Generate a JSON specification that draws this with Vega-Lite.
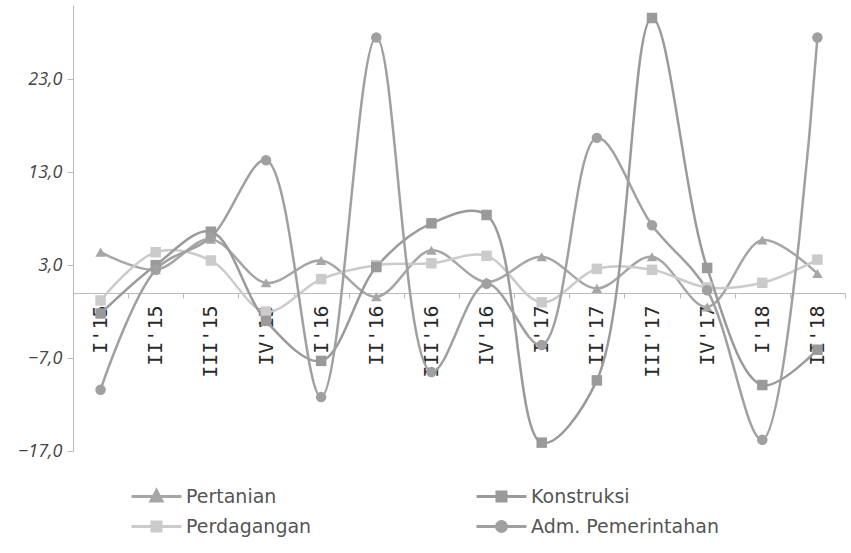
{
  "$schema": "https://vega.github.io/schema/vega-lite/v6.json",
  "width": 772,
  "height": 446,
  "autosize": {"type": "none"},
  "padding": {"left": 73, "top": 5, "right": 6, "bottom": 102},
  "background": "white",
  "config": {"view": {"stroke": null}, "font": "Open Sans"},
  "data": {
    "values": [
      {"q": "I'15", "s": "Pertanian", "v": 4.4},
      {"q": "II'15", "s": "Pertanian", "v": 2.5},
      {"q": "III'15", "s": "Pertanian", "v": 5.8},
      {"q": "IV'15", "s": "Pertanian", "v": 1.1},
      {"q": "I'16", "s": "Pertanian", "v": 3.5},
      {"q": "II'16", "s": "Pertanian", "v": -0.4},
      {"q": "III'16", "s": "Pertanian", "v": 4.6},
      {"q": "IV'16", "s": "Pertanian", "v": 1.2},
      {"q": "I'17", "s": "Pertanian", "v": 3.9},
      {"q": "II'17", "s": "Pertanian", "v": 0.5},
      {"q": "III'17", "s": "Pertanian", "v": 3.9},
      {"q": "IV'17", "s": "Pertanian", "v": -1.5},
      {"q": "I'18", "s": "Pertanian", "v": 5.7},
      {"q": "II'18", "s": "Pertanian", "v": 2.1},
      {"q": "I'15", "s": "Perdagangan", "v": -0.8},
      {"q": "II'15", "s": "Perdagangan", "v": 4.4},
      {"q": "III'15", "s": "Perdagangan", "v": 3.5},
      {"q": "IV'15", "s": "Perdagangan", "v": -2.0},
      {"q": "I'16", "s": "Perdagangan", "v": 1.5},
      {"q": "II'16", "s": "Perdagangan", "v": 3.0},
      {"q": "III'16", "s": "Perdagangan", "v": 3.2},
      {"q": "IV'16", "s": "Perdagangan", "v": 4.0},
      {"q": "I'17", "s": "Perdagangan", "v": -1.0},
      {"q": "II'17", "s": "Perdagangan", "v": 2.6},
      {"q": "III'17", "s": "Perdagangan", "v": 2.5},
      {"q": "IV'17", "s": "Perdagangan", "v": 0.6},
      {"q": "I'18", "s": "Perdagangan", "v": 1.1},
      {"q": "II'18", "s": "Perdagangan", "v": 3.6},
      {"q": "I'15", "s": "Konstruksi", "v": -2.2},
      {"q": "II'15", "s": "Konstruksi", "v": 3.0},
      {"q": "III'15", "s": "Konstruksi", "v": 6.6},
      {"q": "IV'15", "s": "Konstruksi", "v": -3.0},
      {"q": "I'16", "s": "Konstruksi", "v": -7.3},
      {"q": "II'16", "s": "Konstruksi", "v": 2.8},
      {"q": "III'16", "s": "Konstruksi", "v": 7.5},
      {"q": "IV'16", "s": "Konstruksi", "v": 8.4},
      {"q": "I'17", "s": "Konstruksi", "v": -16.1},
      {"q": "II'17", "s": "Konstruksi", "v": -9.4},
      {"q": "III'17", "s": "Konstruksi", "v": 29.6},
      {"q": "IV'17", "s": "Konstruksi", "v": 2.7},
      {"q": "I'18", "s": "Konstruksi", "v": -9.9},
      {"q": "II'18", "s": "Konstruksi", "v": -6.1},
      {"q": "I'15", "s": "Adm. Pemerintahan", "v": -10.4},
      {"q": "II'15", "s": "Adm. Pemerintahan", "v": 2.5},
      {"q": "III'15", "s": "Adm. Pemerintahan", "v": 6.0},
      {"q": "IV'15", "s": "Adm. Pemerintahan", "v": 14.3},
      {"q": "I'16", "s": "Adm. Pemerintahan", "v": -11.2},
      {"q": "II'16", "s": "Adm. Pemerintahan", "v": 27.5},
      {"q": "III'16", "s": "Adm. Pemerintahan", "v": -8.5},
      {"q": "IV'16", "s": "Adm. Pemerintahan", "v": 1.0},
      {"q": "I'17", "s": "Adm. Pemerintahan", "v": -5.6},
      {"q": "II'17", "s": "Adm. Pemerintahan", "v": 16.7},
      {"q": "III'17", "s": "Adm. Pemerintahan", "v": 7.3},
      {"q": "IV'17", "s": "Adm. Pemerintahan", "v": 0.3},
      {"q": "I'18", "s": "Adm. Pemerintahan", "v": -15.8},
      {"q": "II'18", "s": "Adm. Pemerintahan", "v": 27.5}
    ]
  },
  "encoding": {
    "x": {
      "field": "q",
      "type": "ordinal",
      "sort": ["I'15","II'15","III'15","IV'15","I'16","II'16","III'16","IV'16","I'17","II'17","III'17","IV'17","I'18","II'18"],
      "scale": {"type": "band", "paddingInner": 0, "paddingOuter": 0},
      "axis": {
        "orient": "bottom",
        "offset": -158,
        "title": null,
        "labelAngle": -90,
        "labelFont": "DejaVu Sans Mono",
        "labelFontSize": 20,
        "labelColor": "#2a2a2a",
        "labelPadding": 7,
        "domainColor": "#bbbbbb",
        "tickColor": "#bbbbbb",
        "tickBand": "extent",
        "tickSize": 5,
        "grid": false
      }
    },
    "y": {
      "field": "v",
      "type": "quantitative",
      "scale": {"domain": [-17, 31], "nice": false, "zero": false},
      "axis": {
        "title": null,
        "values": [-17, -7, 3, 13, 23],
        "labelExpr": "replace(format(datum.value, '.1f'), '.', ',')",
        "labelFontStyle": "italic",
        "labelFontSize": 18,
        "labelColor": "#444444",
        "labelPadding": 5,
        "domainColor": "#bbbbbb",
        "tickColor": "#bbbbbb",
        "tickSize": 6,
        "grid": false
      }
    }
  },
  "layer": [
    {
      "mark": {"type": "line", "interpolate": "catmull-rom", "strokeWidth": 2.5},
      "encoding": {
        "color": {
          "field": "s",
          "type": "nominal",
          "scale": {
            "domain": ["Pertanian", "Perdagangan", "Konstruksi", "Adm. Pemerintahan"],
            "range": ["#a6a6a6", "#cbcbcb", "#9a9a9a", "#a0a0a0"]
          },
          "legend": {
            "title": null,
            "orient": "none",
            "legendX": 57,
            "legendY": 480,
            "columns": 2,
            "columnPadding": 158,
            "rowPadding": 8,
            "symbolType": "M-2.5,0H2.5M-0.5,-0.5H0.5V0.5H-0.5Z",
            "symbolSize": 400,
            "symbolOffset": 15,
            "symbolStrokeWidth": 3,
            "labelFont": "DejaVu Sans",
            "labelFontSize": 19,
            "labelColor": "#555555",
            "labelOffset": 18,
            "labelLimit": 300,
            "encode": {
              "symbols": {
                "update": {
                  "shape": {"signal": "datum.value === 'Pertanian' ? 'M-2.5,0H2.5M0,-0.6L0.55,0.45H-0.55Z' : (datum.value === 'Perdagangan') ? 'M-2.5,0H2.5M-0.45,-0.45H0.45V0.45H-0.45Z' : (datum.value === 'Konstruksi') ? 'M-2.5,0H2.5M-0.45,-0.45H0.45V0.45H-0.45Z' : 'M-2.5,0H2.5M-0.5,0A0.5,0.5 0 1,0 0.5,0A0.5,0.5 0 1,0 -0.5,0Z'"},
                  "fill": {"scale": "color", "field": "value"},
                  "stroke": {"scale": "color", "field": "value"},
                  "strokeWidth": {"value": 3},
                  "opacity": {"value": 1}
                }
              }
            }
          }
        }
      }
    },
    {
      "transform": [{"filter": "datum.s === 'Pertanian'"}],
      "mark": {"type": "point", "filled": true, "size": 110, "opacity": 1, "shape": "triangle-up", "color": "#a6a6a6"}
    },
    {
      "transform": [{"filter": "datum.s === 'Perdagangan'"}],
      "mark": {"type": "point", "filled": true, "size": 110, "opacity": 1, "shape": "square", "color": "#cbcbcb"}
    },
    {
      "transform": [{"filter": "datum.s === 'Konstruksi'"}],
      "mark": {"type": "point", "filled": true, "size": 110, "opacity": 1, "shape": "square", "color": "#9a9a9a"}
    },
    {
      "transform": [{"filter": "datum.s === 'Adm. Pemerintahan'"}],
      "mark": {"type": "point", "filled": true, "size": 110, "opacity": 1, "shape": "circle", "color": "#a0a0a0"}
    }
  ]
}
